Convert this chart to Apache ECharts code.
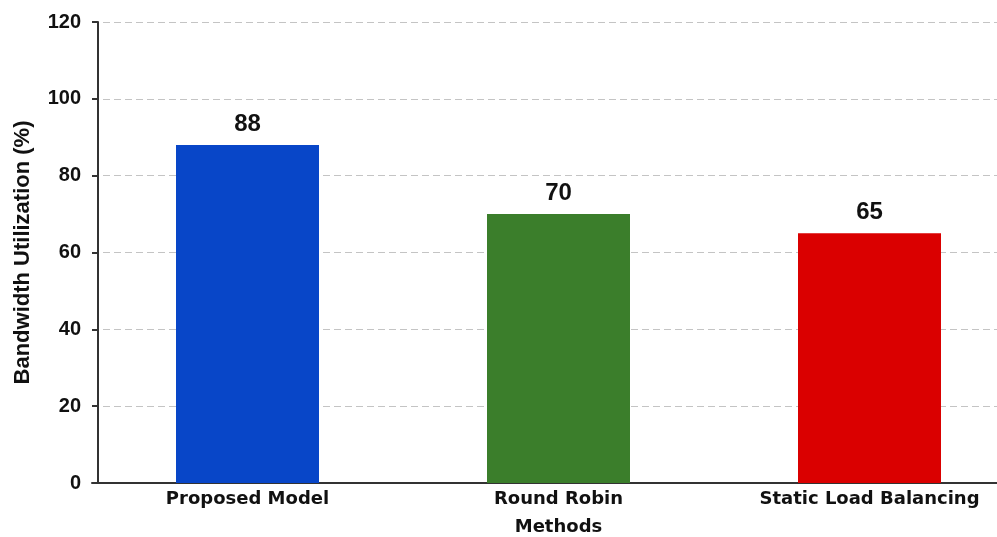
<!DOCTYPE html>
<html>
<head>
<meta charset="utf-8">
<script src="https://cdn.jsdelivr.net/npm/echarts@6/dist/echarts.min.js"></script>
<style>
  html, body { margin: 0; padding: 0; background: #fff; }
  #chart { width: 997px; height: 537px; }
</style>
</head>
<body>
<div id="chart"></div>
<script>
var categories = ['Proposed Model', 'Round Robin\nMethods', 'Static Load Balancing'];
var utilization = [88, 70, 65];
var barColors = ['#0846c8', '#3b7e2b', '#da0000'];

var wideFont = '"DejaVu Sans", "Liberation Sans", Arial, sans-serif';
var arialFont = '"Liberation Sans", Arial, sans-serif';

var option_bw = {
    backgroundColor: '#ffffff',
    grid: {
        left: 92,
        width: 933,
        top: 22,
        bottom: 54,
        outerBoundsMode: 'none',
        containLabel: false
    },
    xAxis: {
        type: 'category',
        data: categories,
        axisLine: { lineStyle: { color: '#333', width: 2 } },
        axisTick: { show: false },
        axisLabel: {
            color: '#111',
            fontFamily: wideFont,
            fontWeight: 'bold',
            fontSize: 18,
            lineHeight: 28,
            margin: 2
        }
    },
    yAxis: {
        type: 'value',
        min: 0,
        max: 120,
        interval: 20,
        offset: -6,
        name: 'Bandwidth Utilization (%)',
        nameLocation: 'middle',
        nameGap: 64,
        nameTextStyle: {
            color: '#111',
            fontFamily: arialFont,
            fontWeight: 'bold',
            fontSize: 22
        },
        axisLine: { show: true, lineStyle: { color: '#333', width: 2 } },
        axisTick: { show: true, length: 6, lineStyle: { color: '#333', width: 2 } },
        axisLabel: {
            color: '#111',
            fontFamily: arialFont,
            fontWeight: 'bold',
            fontSize: 20,
            margin: 17
        },
        splitLine: {
            show: true,
            lineStyle: { color: '#c4c4c4', type: [7, 4], width: 1.2 }
        }
    },
    series: [
        {
            type: 'bar',
            barWidth: 143,
            data: utilization.map(function (v, i) {
                return { value: v, itemStyle: { color: barColors[i] } };
            }),
            label: {
                show: true,
                position: 'top',
                distance: 9,
                color: '#111',
                fontFamily: arialFont,
                fontWeight: 'bold',
                fontSize: 24
            }
        }
    ]
};

var chart = echarts.init(document.getElementById('chart'));
chart.setOption(option_bw);
</script>
</body>
</html>
